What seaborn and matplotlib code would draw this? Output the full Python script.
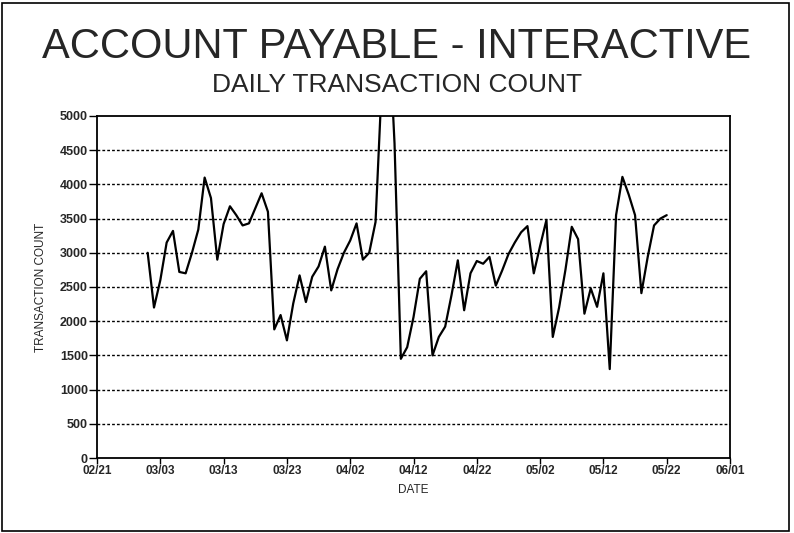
import pandas as pd
import numpy as np
import matplotlib
matplotlib.use("Agg")
import matplotlib.pyplot as plt
import seaborn as sns

# daily transaction counts, 03/01 .. 05/22
counts = [3000, 2200, 2600, 3150, 3320, 2720, 2700, 3000, 3340, 4100,
          3800, 2900, 3420, 3680, 3550, 3400, 3430, 3650, 3870, 3600,
          1880, 2090, 1720, 2260, 2670, 2280, 2650, 2800, 3090, 2450,
          2760, 3000, 3180, 3430, 2900, 3000, 3450, 5500, 6500, 4600,
          1450, 1620, 2060, 2620, 2730, 1500, 1770, 1920, 2380, 2890,
          2160, 2700, 2880, 2840, 2940, 2520, 2740, 2980, 3150, 3300,
          3390, 2700, 3100, 3480, 1770, 2200, 2750, 3380, 3200, 2110,
          2480, 2210, 2700, 1300, 3550, 4110, 3850, 3550, 2410, 2940,
          3400, 3500, 3550]
dates = pd.date_range("1995-03-01", periods=len(counts), freq="D")
df = pd.DataFrame({"Date": dates, "Count": counts})

y_ticks = [0, 500, 1000, 1500, 2000, 2500, 3000, 3500, 4000, 4500, 5000]
x_ticks = pd.date_range("1995-02-21", "1995-06-01", freq="10D")

sns.set_style("white")
plt.rcParams['font.family'] = ['Liberation Sans', 'DejaVu Sans']

fig = plt.figure(figsize=(7.94, 5.33), dpi=100)
ax = fig.add_axes([0.1222, 0.1407, 0.7972, 0.6417])

sns.lineplot(x="Date", y="Count", data=df, ax=ax, color="black", linewidth=1.6)

ax.set_ylim(0, 5000)
ax.set_xlim(x_ticks[0], x_ticks[-1])
ax.set_yticks(y_ticks)
ax.set_yticklabels([str(v) for v in y_ticks], fontsize=9, fontweight="bold")
ax.set_xticks(x_ticks)
ax.set_xticklabels([d.strftime("%m/%d") for d in x_ticks], fontsize=8.5, fontweight="bold")
ax.tick_params(axis="y", direction="out", length=6, width=1, color="black", pad=0.5, left=True)
ax.tick_params(axis="x", direction="out", length=4, width=1, color="black", pad=1, bottom=True)

for v in y_ticks[1:-1]:
    ax.axhline(v, color="black", linewidth=1, linestyle=(0, (2, 1.5)), zorder=0)

for s in ax.spines.values():
    s.set_color("black")
    s.set_linewidth(1.3)

ax.set_xlabel("DATE", fontsize=8.5, labelpad=5)
ax.set_ylabel("TRANSACTION COUNT", fontsize=8.5, labelpad=9)

fig.text(0.5, 0.912, "ACCOUNT PAYABLE - INTERACTIVE", ha="center", va="center", fontsize=30)
fig.text(0.5, 0.840, "DAILY TRANSACTION COUNT", ha="center", va="center", fontsize=19)

fig.patches.append(plt.Rectangle((0.003, 0.003), 0.991, 0.992, transform=fig.transFigure,
                                 fill=False, edgecolor="black", linewidth=1.2))

fig.savefig("out.png", dpi=100)
